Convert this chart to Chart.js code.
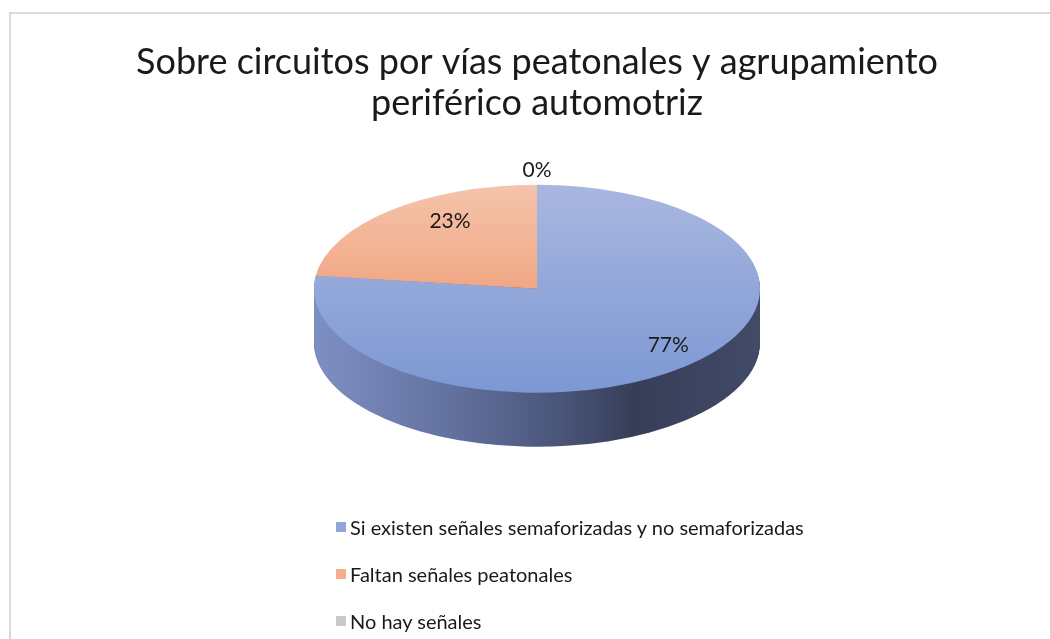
<!DOCTYPE html>
<html>
<head>
<meta charset="utf-8">
<script src="https://cdn.jsdelivr.net/npm/chart.js@4/dist/chart.umd.min.js"></script>
<style>
  html, body { margin: 0; padding: 0; background: #ffffff; width: 1050px; height: 639px; overflow: hidden; }
  #frame { position: absolute; left: 9px; top: 12px; width: 1120px; height: 720px; border: 2px solid #d9d9d9; box-sizing: border-box; }
  #wrap { position: absolute; left: 0; top: 0; width: 1050px; height: 639px; }
  #legend { position: absolute; left: 336px; top: 503px; font-family: Lato, "Noto Sans", sans-serif; font-size: 20px; color: #1a1a1a; }
  #legend .item { display: flex; align-items: center; height: 47px; white-space: nowrap; }
  #legend .box { width: 10px; height: 10px; margin-right: 4px; flex: none; }
</style>
</head>
<body>
<div id="frame"></div>
<div id="wrap"><canvas id="c"></canvas></div>
<div id="legend"></div>
<script>
// ---- data ----
const titleLines = ['Sobre circuitos por vías peatonales y agrupamiento', 'periférico automotriz'];
const categories = ['Si existen señales semaforizadas y no semaforizadas', 'Faltan señales peatonales', 'No hay señales'];
const shares = [77, 23, 0];

// ---- styles ----
const faceColors = [['#a9b7df', '#7c98d4'], ['#f5c4ab', '#ec8a5e'], ['#d4d4d4', '#b0b0b0']];
const legendColors = ['#92a5d9', '#f3ae8e', '#c9c9c9'];
const sideStops = [[0, '#7e8fc4'], [0.3, '#64729f'], [0.55, '#4a557a'], [0.72, '#373e58'], [1, '#414a67']];
// label placement as fractions of the radius along each slice's mid-angle [horizontal, vertical]
const labelReach = [[0.89, 0.72], [0.59, 0.86], [0, 1.14]];
const PIE_RADIUS = 223;
const TILT = 104 / 223;
const DEPTH = 54;

const pie3d = {
  id: 'pie3d',
  beforeDatasetsDraw(chart, args, opts) {
    const arcs = chart.getDatasetMeta(0).data;
    const ctx = chart.ctx;
    ctx.save();
    if (!arcs.length) return;
    const { x: cx, y: cy, outerRadius: r } = arcs[0];
    const k = opts.tilt, depth = opts.depth;
    // project the flat pie onto a tilted disc; the whole solid (face + rim) is centred in the chart area
    ctx.translate(cx, cy - depth / 2);
    ctx.scale(1, k);
    ctx.translate(-cx, -cy);
    const g = ctx.createLinearGradient(cx - r, 0, cx + r, 0);
    opts.sideStops.forEach(([o, c]) => g.addColorStop(o, c));
    for (let d = depth; d > 0; d -= 1) {
      ctx.save();
      ctx.translate(0, d / k);
      arcs.forEach((arc) => {
        const ghost = Object.create(arc);
        ghost.options = Object.assign({}, arc.options, { backgroundColor: g, borderWidth: 0 });
        ghost.draw(ctx);
      });
      ctx.restore();
    }
  },
  afterDatasetsDraw(chart, args, opts) {
    const ctx = chart.ctx;
    ctx.restore();
    const arcs = chart.getDatasetMeta(0).data;
    if (!arcs.length) return;
    const { x: cx, y: cy, outerRadius: r } = arcs[0];
    const k = opts.tilt, faceCy = cy - opts.depth / 2;
    const values = chart.data.datasets[0].data;
    const total = values.reduce((a, b) => a + b, 0);
    ctx.save();
    ctx.font = '21px Lato, "Noto Sans", sans-serif';
    ctx.fillStyle = '#1a1a1a';
    ctx.textAlign = 'center';
    ctx.textBaseline = 'middle';
    arcs.forEach((arc, i) => {
      const mid = (arc.startAngle + arc.endAngle) / 2;
      const [fx, fy] = opts.labelReach[i];
      const px = cx + Math.cos(mid) * r * fx;
      const py = faceCy + Math.sin(mid) * r * fy * k;
      ctx.fillText(Math.round(values[i] / total * 100) + '%', px, py);
    });
    ctx.restore();
  }
};

const htmlLegend = {
  id: 'htmlLegend',
  afterUpdate(chart) {
    const box = document.getElementById('legend');
    box.innerHTML = '';
    chart.data.labels.forEach((lab, i) => {
      const item = document.createElement('div');
      item.className = 'item';
      const sw = document.createElement('span');
      sw.className = 'box';
      sw.style.background = legendColors[i];
      const tx = document.createElement('span');
      tx.textContent = lab;
      item.appendChild(sw);
      item.appendChild(tx);
      box.appendChild(item);
    });
  }
};

function faceFill(context) {
  const chart = context.chart;
  const area = chart.chartArea;
  const pair = faceColors[context.dataIndex];
  if (!area) return pair[0];
  const cy = (area.top + area.bottom) / 2;
  const g = chart.ctx.createLinearGradient(0, cy - PIE_RADIUS, 0, cy + PIE_RADIUS);
  g.addColorStop(0, pair[0]);
  g.addColorStop(1, pair[1]);
  return g;
}

new Chart(document.getElementById('c'), {
  type: 'pie',
  data: {
    labels: categories,
    datasets: [{
      data: shares,
      backgroundColor: faceFill,
      borderWidth: 0,
      radius: PIE_RADIUS,
      clip: false
    }]
  },
  options: {
    responsive: true,
    maintainAspectRatio: false,
    animation: false,
    events: [],
    layout: { padding: { left: 24, right: 0, top: 0, bottom: 137 } },
    plugins: {
      legend: { display: false },
      tooltip: { enabled: false },
      title: {
        display: true,
        text: titleLines,
        color: '#1a1a1a',
        font: { family: 'Lato, "Noto Sans", sans-serif', size: 36, weight: 'normal', lineHeight: 1.14 },
        padding: { top: 41.5, bottom: 6 }
      },
      pie3d: { tilt: TILT, depth: DEPTH, sideStops: sideStops, labelReach: labelReach }
    }
  },
  plugins: [pie3d, htmlLegend]
});
</script>
</body>
</html>
